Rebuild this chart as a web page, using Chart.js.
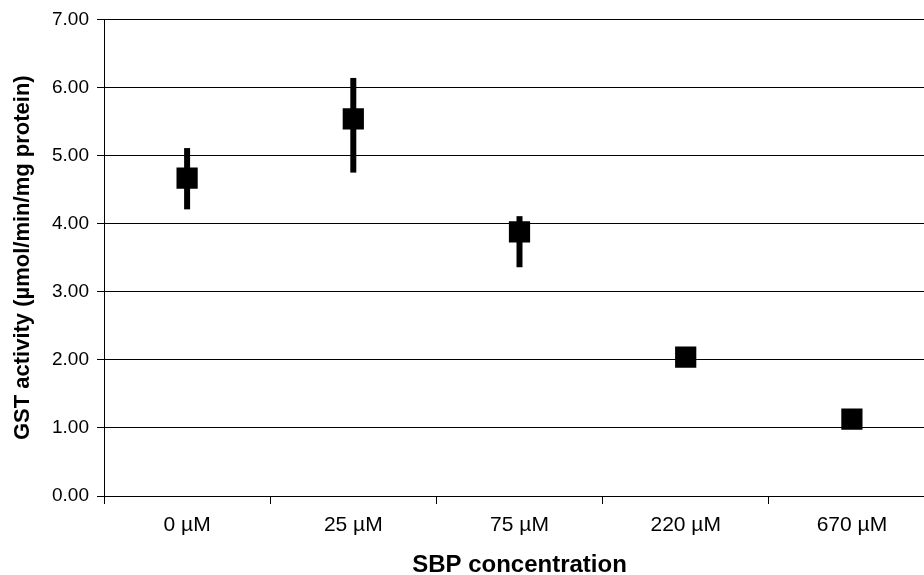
<!DOCTYPE html>
<html><head><meta charset="utf-8">
<script src="https://cdn.jsdelivr.net/npm/chart.js@4/dist/chart.umd.min.js"></script>
<style>html,body{margin:0;padding:0;overflow:hidden;background:#fff}</style>
</head><body><canvas id="c" width="935" height="575"></canvas>
<script>
const categories = ['0 µM', '25 µM', '75 µM', '220 µM', '670 µM'];
const meanValues = [4.67, 5.54, 3.88, 2.04, 1.13];
const errorHigh = [5.11, 6.14, 4.11, 2.04, 1.13];
const errorLow = [4.21, 4.75, 3.36, 2.04, 1.13];
const yTickValues = [0, 1, 2, 3, 4, 5, 6, 7];

const errorBars = {
  id: 'errorBars',
  beforeDatasetsDraw(chart) {
    const {ctx, scales: {x, y}} = chart;
    ctx.save();
    ctx.strokeStyle = '#000';
    ctx.lineWidth = 6;
    ctx.lineCap = 'butt';
    categories.forEach((c, i) => {
      const px = x.getPixelForValue(i);
      ctx.beginPath();
      ctx.moveTo(px, y.getPixelForValue(errorHigh[i]));
      ctx.lineTo(px, y.getPixelForValue(errorLow[i]));
      ctx.stroke();
    });
    ctx.restore();
  }
};

new Chart(document.getElementById('c'), {
  type: 'line',
  data: {
    labels: categories,
    datasets: [{
      data: meanValues,
      showLine: false,
      pointStyle: 'rect',
      pointRadius: 15,
      pointHoverRadius: 15,
      pointBackgroundColor: '#000',
      pointBorderColor: '#000',
      pointBorderWidth: 0
    }]
  },
  options: {
    responsive: false,
    animation: false,
    events: [],
    layout: {autoPadding: false, padding: {top: 0, right: 0, left: 0, bottom: 0}},
    plugins: {legend: {display: false}, tooltip: {enabled: false}},
    scales: {
      x: {
        type: 'category',
        offset: true,
        border: {display: true, color: '#000', width: 1},
        grid: {display: true, drawOnChartArea: false, offset: true, color: '#000', tickLength: 8, lineWidth: 1},
        ticks: {color: '#000', padding: 9, font: {family: '"Liberation Sans", Arial', size: 21}, maxRotation: 0},
        title: {display: true, text: 'SBP concentration', color: '#000', padding: {top: 0, bottom: -5},
          font: {family: '"Liberation Sans", Arial', size: 24, weight: 'bold'}},
        afterFit(s) { s.height = 79; }
      },
      y: {
        min: 0, max: 7,
        afterBuildTicks(s) { s.ticks = yTickValues.map(v => ({value: v})); },
        border: {display: true, color: '#000', width: 1},
        grid: {color: '#000', lineWidth: 1, tickLength: 7},
        ticks: {color: '#000', padding: 8, font: {family: '"Liberation Sans", Arial', size: 19},
          callback: v => Number(v).toFixed(2)},
        title: {display: true, text: 'GST activity (µmol/min/mg protein)', color: '#000', padding: {top: 10, bottom: 4},
          font: {family: '"Liberation Sans", Arial', size: 22, weight: 'bold'}},
        afterFit(s) { s.width = 104; }
      }
    }
  },
  plugins: [errorBars]
});
</script></body></html>
